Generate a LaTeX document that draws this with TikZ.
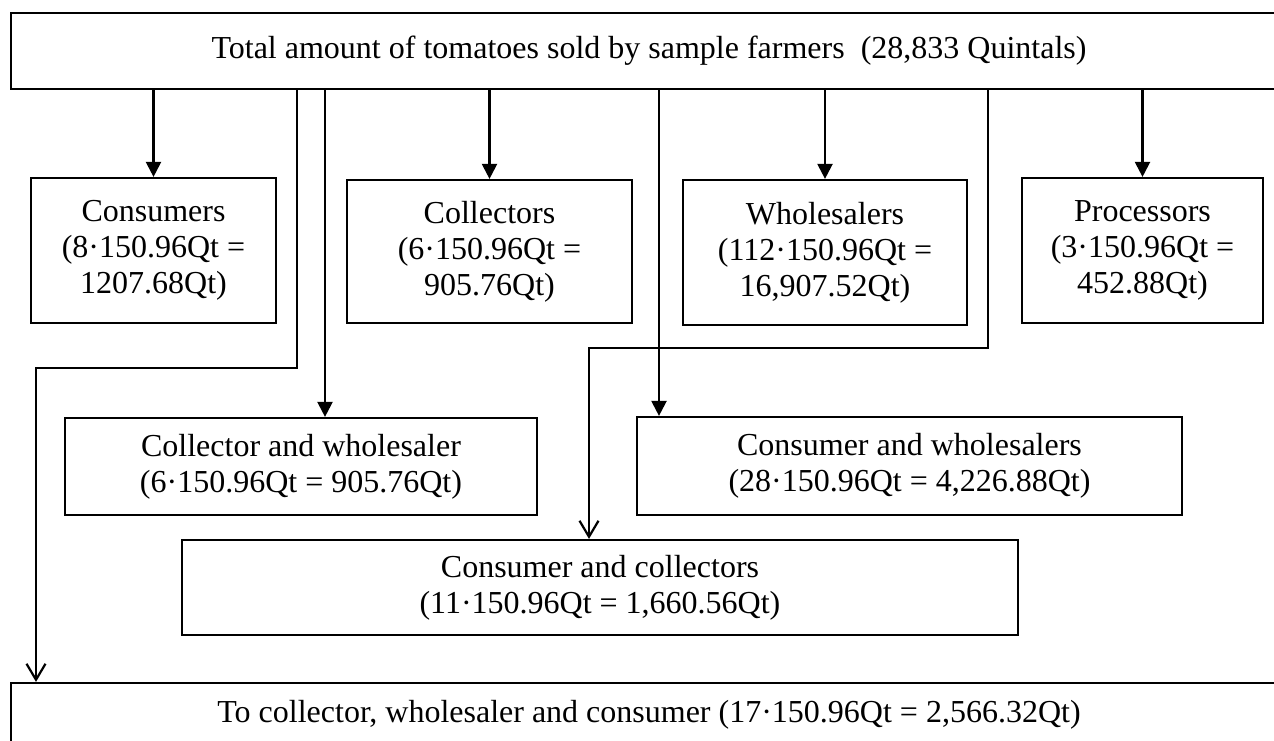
\documentclass[tikz,border=0pt]{standalone}
\usepackage{fontspec}
\setmainfont{Liberation Serif}
\usetikzlibrary{arrows.meta}
\tikzset{
  box/.style={draw=black, line width=2.2pt, rectangle, inner sep=0pt, align=center,
    font=\fontsize{32}{36}\selectfont},
  arr/.style={draw=black, line width=2.2pt, -{Triangle[length=15pt,width=15pt]}},
  openarr/.style={draw=black, line width=2.2pt, -{Straight Barb[length=16pt,width=19pt]}},
}
\begin{document}
\begin{tikzpicture}[x=1pt,y=-1pt]
\useasboundingbox (0,0) rectangle (1274,740);
\clip (0,0) rectangle (1274,740);
\fill[white] (0,0) rectangle (1274,740);

\node[box, minimum width=1276pt, minimum height=76pt] (top) at (649,51)
  {Total amount of tomatoes sold by sample farmers\ \ (28,833 Quintals)};

\node[box, minimum width=245pt, minimum height=145pt] (cons) at (153.5,250.5)
  {Consumers\\(8·150.96Qt =\\1207.68Qt)};
\node[box, minimum width=285pt, minimum height=143pt] (coll) at (489.5,251.5)
  {Collectors\\(6·150.96Qt =\\905.76Qt)};
\node[box, minimum width=284pt, minimum height=145pt] (whol) at (825,252.5)
  {Wholesalers\\(112·150.96Qt =\\16,907.52Qt)};
\node[box, minimum width=241pt, minimum height=145pt] (proc) at (1142.5,250.5)
  {Processors\\(3·150.96Qt =\\452.88Qt)};

\node[box, minimum width=472pt, minimum height=97pt] (cw) at (301,466.5)
  {Collector and wholesaler\\(6·150.96Qt = 905.76Qt)};
\node[box, minimum width=545pt, minimum height=98pt] (cws) at (909.5,466)
  {Consumer and wholesalers\\(28·150.96Qt = 4,226.88Qt)};
\node[box, minimum width=836pt, minimum height=95pt] (cc) at (600,587.5)
  {Consumer and collectors\\(11·150.96Qt = 1,660.56Qt)};

\node[box, minimum width=1276pt, minimum height=63pt] (bot) at (649,714.5)
  {To collector, wholesaler and consumer (17·150.96Qt = 2,566.32Qt)};

% straight arrows to the first row
\draw[arr] (top.south -| cons.north) -- (cons.north);
\draw[arr] (top.south -| coll.north) -- (coll.north);
\draw[arr] (top.south -| whol.north) -- (whol.north);
\draw[arr] (top.south -| proc.north) -- (proc.north);

% routed connectors
\coordinate (b1) at (297,368);
\coordinate (b2) at (36,368);
\draw[openarr] (top.south -| b1) -- (b1) -- (b2) -- (b2 |- bot.north);

\coordinate (c1) at (325,400);
\draw[arr] (top.south -| c1) -- (c1 |- cw.north);

\coordinate (d1) at (659,400);
\draw[arr] (top.south -| d1) -- (d1 |- cws.north);

\coordinate (e1) at (988,348);
\coordinate (e2) at (589,348);
\draw[openarr] (top.south -| e1) -- (e1) -- (e2) -- (e2 |- cc.north);
\end{tikzpicture}
\end{document}
